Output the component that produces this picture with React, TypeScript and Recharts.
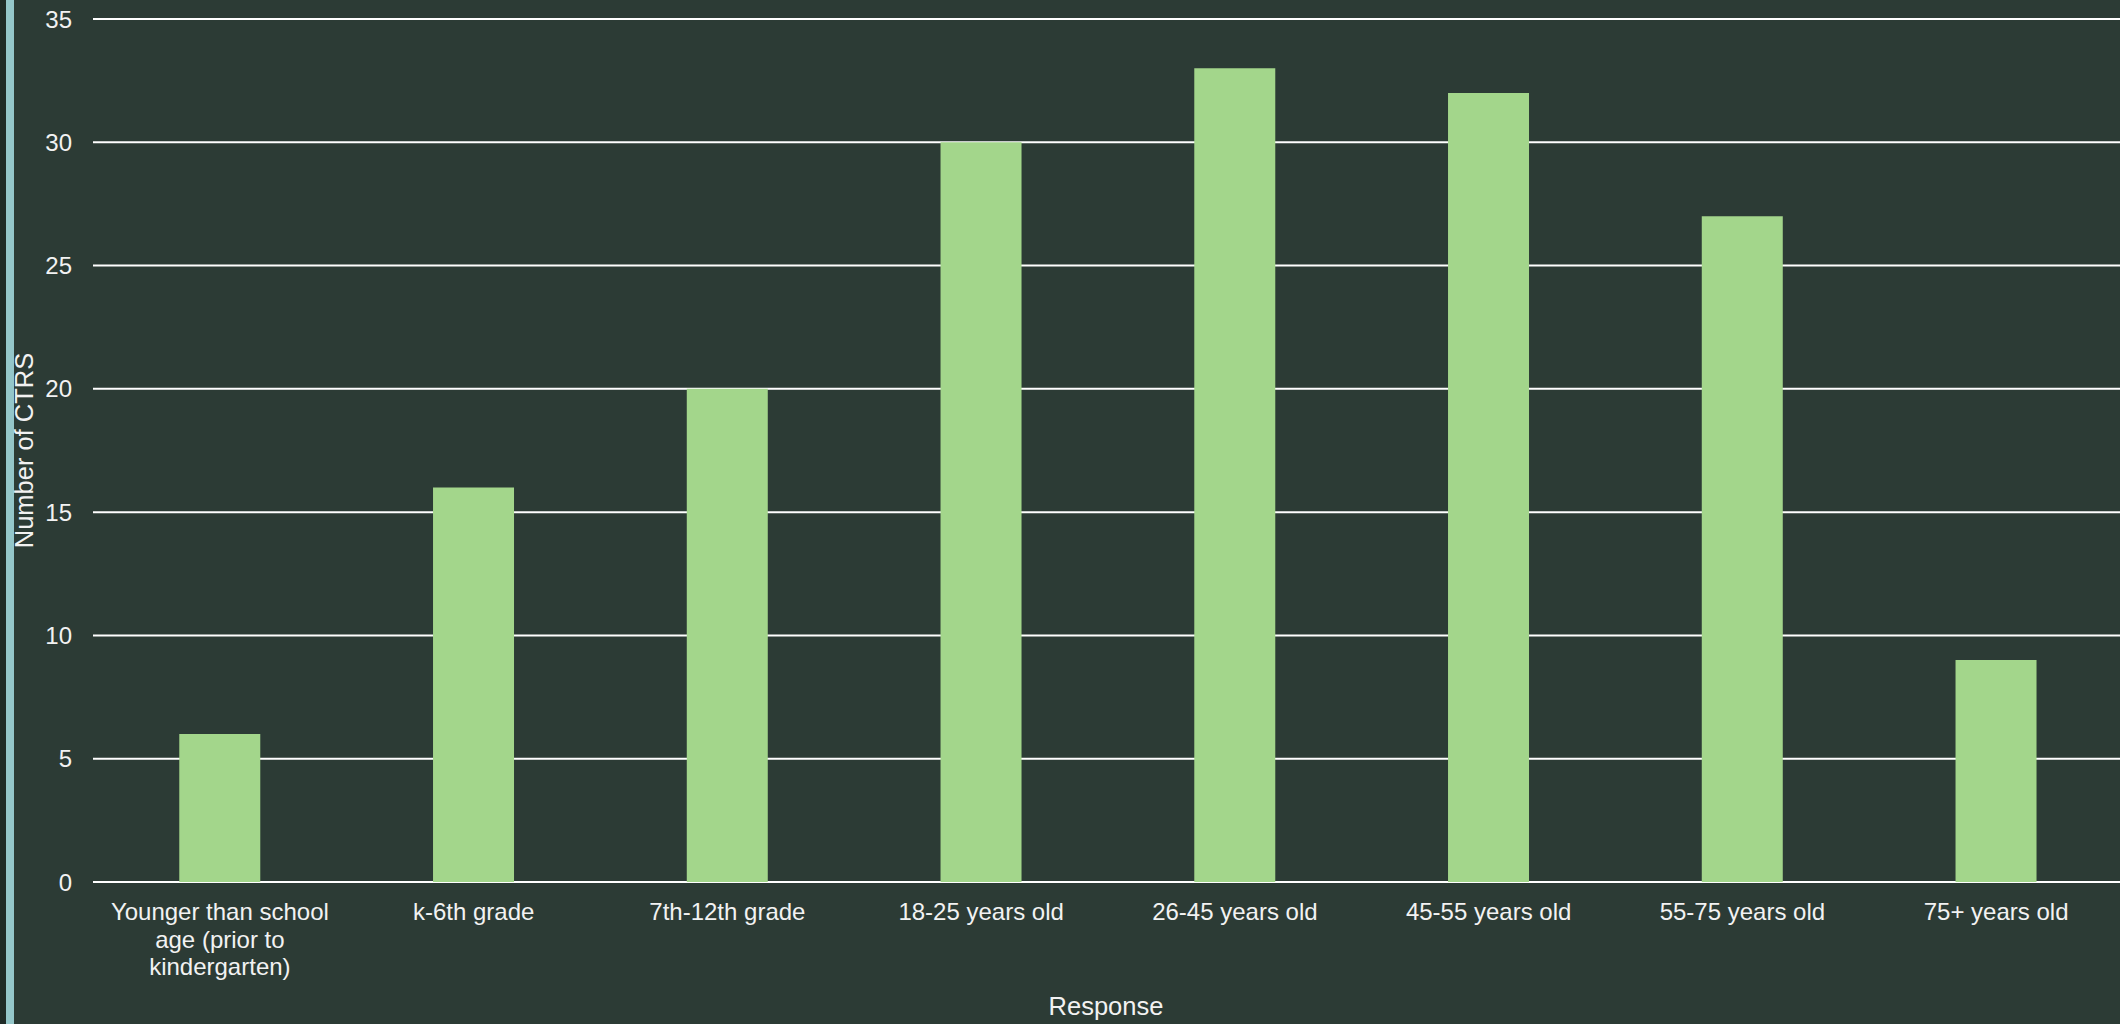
import React from 'react';
import { BarChart, Bar, XAxis, YAxis, CartesianGrid } from 'recharts';

const categories = [
  'Younger than school age (prior to kindergarten)',
  'k-6th grade',
  '7th-12th grade',
  '18-25 years old',
  '26-45 years old',
  '45-55 years old',
  '55-75 years old',
  '75+ years old',
];
const counts = [6, 16, 20, 30, 33, 32, 27, 9];
const yTicks = [0, 5, 10, 15, 20, 25, 30, 35];

const data = categories.map((name, i) => ({ name, value: counts[i] }));

const TEXT = '#f2f2f2';
const FONT = '"Liberation Sans", Arial, sans-serif';

// split long labels into lines of ~20 chars
function wrap(label: string, max = 20): string[] {
  const lines: string[] = [];
  let cur = '';
  label.split(' ').forEach((w) => {
    const next = cur ? cur + ' ' + w : w;
    if (next.length > max && cur) {
      lines.push(cur);
      cur = w;
    } else {
      cur = next;
    }
  });
  if (cur) lines.push(cur);
  return lines;
}

const XTick = (props: any) => {
  const { x, y, payload } = props;
  const lines = wrap(payload.value);
  return (
    <text x={x} y={y} textAnchor="middle" fill={TEXT} fontSize={24} fontFamily={FONT}>
      {lines.map((l, i) => (
        <tspan key={i} x={x} y={y + 38 + i * 27.5}>
          {l}
        </tspan>
      ))}
    </text>
  );
};

export default function App() {
  return (
    <div
      style={{
        position: 'absolute',
        left: 0,
        top: 0,
        width: 2120,
        height: 1024,
        background: '#2c3b35',
        overflow: 'hidden',
      }}
    >
      <div style={{ position: 'absolute', left: 0, top: 0, width: 6, height: 1024, background: '#1f2b27' }} />
      <div style={{ position: 'absolute', left: 6, top: 0, width: 8, height: 1024, background: '#94c6c9' }} />
      <BarChart
        width={2120}
        height={1024}
        data={data}
        margin={{ top: 19, right: -3, left: 0, bottom: 0 }}
        barCategoryGap="34%"
        style={{ position: 'absolute', left: 0, top: 0 }}
      >
        <CartesianGrid horizontal vertical={false} stroke="#ffffff" strokeWidth={2} />
        <XAxis
          dataKey="name"
          height={142}
          axisLine={false}
          tickLine={false}
          tickSize={0}
          tickMargin={0}
          interval={0}
          tick={<XTick />}
          label={{
            content: (p: any) => {
              const vb = p.viewBox;
              return (
                <text
                  x={1106}
                  y={vb.y + vb.height - 9}
                  textAnchor="middle"
                  fill={TEXT}
                  fontSize={25.5}
                  fontFamily={FONT}
                >
                  Response
                </text>
              );
            },
          }}
        />
        <YAxis
          width={93}
          domain={[0, 35]}
          ticks={yTicks}
          interval={0}
          axisLine={false}
          tickLine={false}
          tickSize={0}
          tickMargin={21}
          tick={{ fill: TEXT, fontSize: 24, fontFamily: FONT }}
          label={{
            content: (p: any) => {
              const vb = p.viewBox;
              const cy = vb.y + vb.height / 2;
              return (
                <text
                  x={24}
                  y={cy}
                  transform={`rotate(-90 24 ${cy})`}
                  textAnchor="middle"
                  dominantBaseline="central"
                  fill={TEXT}
                  fontSize={25.5}
                  fontFamily={FONT}
                >
                  Number of CTRS
                </text>
              );
            },
          }}
        />
        <Bar dataKey="value" fill="#a3d68b" isAnimationActive={false} />
      </BarChart>
    </div>
  );
}
